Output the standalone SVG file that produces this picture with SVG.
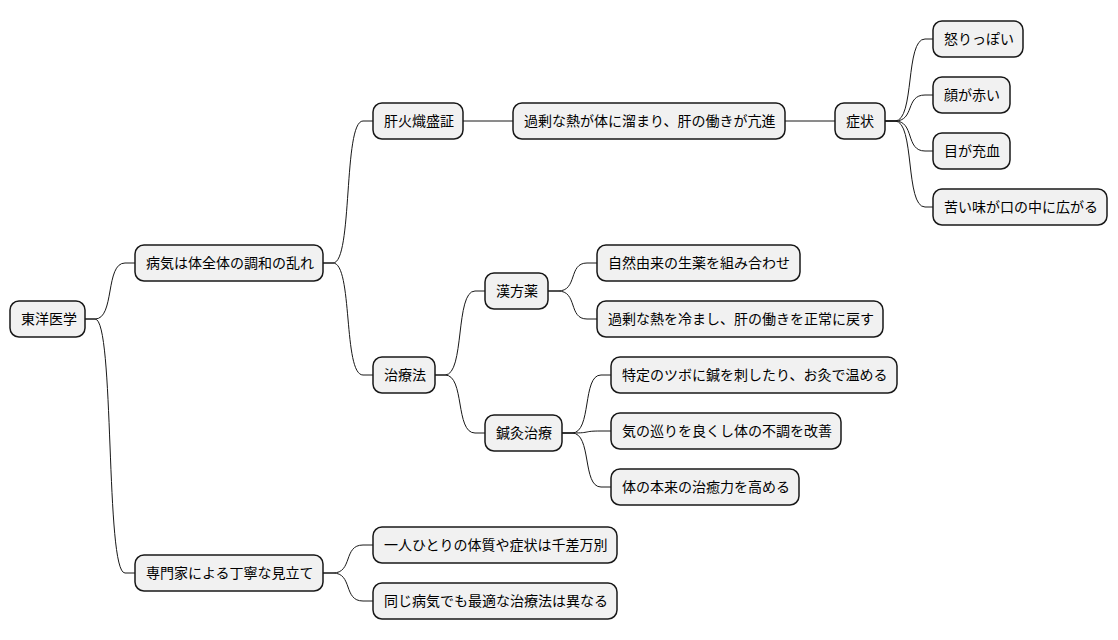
<svg xmlns="http://www.w3.org/2000/svg" width="1118" height="640" viewBox="0 0 1118 640">
<style>
.n rect{fill:#F1F1F1;stroke:#181818;stroke-width:1.5}
.n text{font-family:"Noto Sans CJK JP","Noto Sans",sans-serif;font-size:14px;fill:#000}
#c path{fill:none;stroke:#181818;stroke-width:1}
</style>
<rect width="1118" height="640" fill="#fff"/>
<g id="c">
<path d="M85 319h10C115 319 105 263 125 263h10"/>
<path d="M85 319h10C115 319 105 573 125 573h10"/>
<path d="M323 263h10C353 263 343 121 363 121h10"/>
<path d="M323 263h10C353 263 343 375 363 375h10"/>
<path d="M323 573h10C353 573 343 545 363 545h10"/>
<path d="M323 573h10C353 573 343 601 363 601h10"/>
<path d="M463 121H513"/>
<path d="M785 121H835"/>
<path d="M885 121h10C915 121 905 39 925 39h8"/>
<path d="M885 121h10C915 121 905 95 925 95h8"/>
<path d="M885 121h10C915 121 905 151 925 151h8"/>
<path d="M885 121h10C915 121 905 207 925 207h8"/>
<path d="M435 375h10C465 375 455 291 475 291h10"/>
<path d="M435 375h10C465 375 455 433 475 433h10"/>
<path d="M548 291h10C578 291 568 263 587 263h10"/>
<path d="M548 291h10C578 291 568 319 587 319h10"/>
<path d="M562 433h10C592 433 582 375 601 375h10"/>
<path d="M562 433h10C592 433 582 431 601 431h10"/>
<path d="M562 433h10C592 433 582 487 601 487h10"/>
</g>
<g id="n1" class="n"><rect x="10" y="301" width="75" height="36" rx="9"/><text x="21" y="324">東洋医学</text></g>
<g id="n2" class="n"><rect x="135" y="245" width="188" height="36" rx="9"/><text x="146" y="268">病気は体全体の調和の乱れ</text></g>
<g id="n3" class="n"><rect x="373" y="103" width="90" height="36" rx="9"/><text x="384" y="126">肝火熾盛証</text></g>
<g id="n4" class="n"><rect x="513" y="103" width="272" height="36" rx="9"/><text x="524" y="126">過剰な熱が体に溜まり、肝の働きが亢進</text></g>
<g id="n5" class="n"><rect x="835" y="103" width="50" height="36" rx="9"/><text x="846" y="126">症状</text></g>
<g id="n6" class="n"><rect x="933" y="21" width="90" height="36" rx="9"/><text x="944" y="44">怒りっぽい</text></g>
<g id="n7" class="n"><rect x="933" y="77" width="77" height="36" rx="9"/><text x="944" y="100">顔が赤い</text></g>
<g id="n8" class="n"><rect x="933" y="133" width="77" height="36" rx="9"/><text x="944" y="156">目が充血</text></g>
<g id="n9" class="n"><rect x="933" y="189" width="174" height="36" rx="9"/><text x="944" y="212">苦い味が口の中に広がる</text></g>
<g id="n10" class="n"><rect x="373" y="357" width="62" height="36" rx="9"/><text x="384" y="380">治療法</text></g>
<g id="n11" class="n"><rect x="485" y="273" width="63" height="36" rx="9"/><text x="496" y="296">漢方薬</text></g>
<g id="n12" class="n"><rect x="597" y="245" width="203" height="36" rx="9"/><text x="608" y="268">自然由来の生薬を組み合わせ</text></g>
<g id="n13" class="n"><rect x="597" y="301" width="286" height="36" rx="9"/><text x="608" y="324">過剰な熱を冷まし、肝の働きを正常に戻す</text></g>
<g id="n14" class="n"><rect x="485" y="415" width="77" height="36" rx="9"/><text x="496" y="438">鍼灸治療</text></g>
<g id="n15" class="n"><rect x="611" y="357" width="286" height="36" rx="9"/><text x="622" y="380">特定のツボに鍼を刺したり、お灸で温める</text></g>
<g id="n16" class="n"><rect x="611" y="413" width="230" height="36" rx="9"/><text x="622" y="436">気の巡りを良くし体の不調を改善</text></g>
<g id="n17" class="n"><rect x="611" y="469" width="188" height="36" rx="9"/><text x="622" y="492">体の本来の治癒力を高める</text></g>
<g id="n18" class="n"><rect x="135" y="555" width="188" height="36" rx="9"/><text x="146" y="578">専門家による丁寧な見立て</text></g>
<g id="n19" class="n"><rect x="373" y="527" width="244" height="36" rx="9"/><text x="384" y="550">一人ひとりの体質や症状は千差万別</text></g>
<g id="n20" class="n"><rect x="373" y="583" width="244" height="36" rx="9"/><text x="384" y="606">同じ病気でも最適な治療法は異なる</text></g>
</svg>
